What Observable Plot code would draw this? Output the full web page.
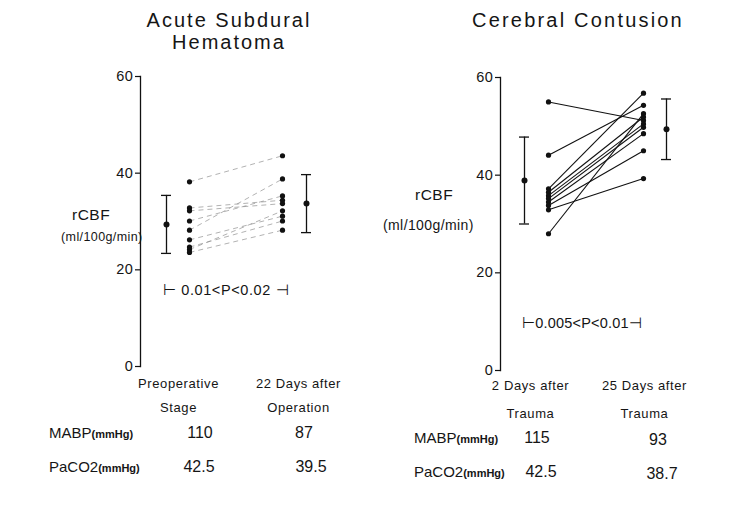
<!DOCTYPE html>
<html><head><meta charset="utf-8">
<script src="https://cdn.jsdelivr.net/npm/d3@7"></script>
<script src="https://cdn.jsdelivr.net/npm/@observablehq/plot@0.6"></script>
<style>
body{margin:0;background:#fff;font-family:"Liberation Sans",Arial,sans-serif;}
#wrap{position:relative;width:732px;height:509px;overflow:hidden;background:#fff;}
#wrap svg{position:absolute;top:0;}
.abs{position:absolute;white-space:nowrap;color:#151515;line-height:1;}
.unit{font-size:11px;font-weight:bold;}
</style></head><body><div id="wrap"></div>
<script>
// ---- data ----
const leftTitle = ["Acute Subdural", "Hematoma"];
const rightTitle = ["Cerebral Contusion"];
const leftStages = ["Preoperative\nStage", "22 Days after\nOperation"];
const rightStages = ["2 Days after\nTrauma", "25 Days after\nTrauma"];
const leftPre  = [38.2, 32.8, 32.2, 30.1, 28.2, 26.2, 24.7, 24.2, 23.6];
const leftPost = [43.6, 34.4, 33.7, 35.3, 38.8, 31.1, 30.1, 32.2, 28.2];
const leftMean = [29.4, 33.7];
const leftSD   = [6.0, 6.0];
const rightPre  = [55.0, 44.1, 37.2, 28.0, 36.5, 35.8, 35.2, 34.5, 33.8, 32.9];
const rightPost = [51.2, 54.3, 56.8, 52.6, 51.9, 50.5, 49.8, 48.5, 45.0, 39.3];
const rightMean = [38.9, 49.4];
const rightSD   = [8.9, 6.2];
const yTicks = [0, 20, 40, 60];
const yLabel = ["rCBF", "(ml/100g/min)"];
const leftP = "\u22A2 0.01<P<0.02 \u22A3";
const rightP = "\u22A20.005<P<0.01\u22A3";
const rowLabels = ["MABP", "PaCO2"];
const rowUnit = "(mmHg)";
const leftMABP = ["110", "87"];
const leftPaCO2 = ["42.5", "39.5"];
const rightMABP = ["115", "93"];
const rightPaCO2 = ["42.5", "38.7"];

const wrap = document.getElementById("wrap");
const FONT = '"Liberation Sans", Arial, sans-serif';

function panel(o) {
  const pairs = o.pre.map((a, i) => ({a, b: o.post[i]}));
  const s0 = () => o.stages[0], s1 = () => o.stages[1];
  const marks = [
    Plot.frame({anchor: "left", stroke: "#111", strokeWidth: 1.3}),
    Plot.axisY({ticks: yTicks, tickSize: 5, tickPadding: 2, fontSize: 14.5, label: null, stroke: "#111", strokeWidth: 1.2}),
    Plot.link(pairs, {x1: s0, x2: s1, y1: "a", y2: "b", stroke: o.lineStroke, strokeWidth: o.lineWidth, strokeDasharray: o.dash, strokeOpacity: o.lineOpacity}),
    Plot.dot(o.pre, {x: s0, y: d => d, r: 2.6, fill: "#111"}),
    Plot.dot(o.post, {x: s1, y: d => d, r: 2.6, fill: "#111"})
  ];
  o.mean.forEach((m, i) => {
    const st = [{x: o.stages[i], m, lo: m - o.sd[i], hi: m + o.sd[i]}];
    const dx = o.meanDx[i];
    marks.push(
      Plot.ruleX(st, {x: "x", y1: "lo", y2: "hi", dx, stroke: "#111", strokeWidth: 1.3}),
      Plot.ruleY(st, {x1: "x", x2: "x", y: "lo", dx, insetLeft: -5, insetRight: -5, stroke: "#111", strokeWidth: 1.3}),
      Plot.ruleY(st, {x1: "x", x2: "x", y: "hi", dx, insetLeft: -5, insetRight: -5, stroke: "#111", strokeWidth: 1.3}),
      Plot.dot(st, {x: "x", y: "m", dx, r: 3, fill: "#111"}),
      Plot.text([o.stages[i]], {x: d => d, text: d => d, frameAnchor: "bottom", lineAnchor: "top", dy: o.labelDy, dx: o.labelDx[i], lineHeight: o.lineHeight, fontSize: 13, fill: "#151515"})
    );
  });
  const svg = Plot.plot({
    width: 366, height: 440,
    marginLeft: o.marginLeft, marginTop: o.marginTop, marginBottom: 440 - o.zeroY, marginRight: 20,
    style: {fontFamily: FONT, color: "#151515", background: "transparent"},
    x: {type: "point", domain: o.stages, range: o.xRange, padding: 0, axis: null},
    y: {domain: [0, 60], axis: null},
    marks
  });
  svg.style.left = o.left + "px";
  svg.querySelectorAll("text").forEach(t => t.style.letterSpacing = "0.6px");
  wrap.appendChild(svg);
}

panel({left: 0, stages: leftStages, pre: leftPre, post: leftPost, mean: leftMean, sd: leftSD,
  marginLeft: 140, marginTop: 76, zeroY: 366, xRange: [189, 282], meanDx: [-23, 24],
  lineStroke: "#888", lineWidth: 1, dash: "5,4", lineOpacity: 0.65,
  labelDx: [-11, 16], labelDy: 4, lineHeight: 1.85});
panel({left: 366, stages: rightStages, pre: rightPre, post: rightPost, mean: rightMean, sd: rightSD,
  marginLeft: 134, marginTop: 77, zeroY: 370, xRange: [182, 277], meanDx: [-24, 23],
  lineStroke: "#111", lineWidth: 1.1, dash: null, lineOpacity: 1,
  labelDx: [-18, 1], labelDy: -1, lineHeight: 2.2});

function txt(text, left, top, size, extra, html) {
  const d = document.createElement("div");
  d.className = "abs";
  if (html) d.innerHTML = text; else d.textContent = text;
  d.style.left = left + "px";
  d.style.top = top + "px";
  d.style.fontSize = size + "px";
  if (extra) Object.assign(d.style, extra);
  wrap.appendChild(d);
  return d;
}
function centered(text, cx, top, size, extra, w) {
  w = w || 120;
  return txt(text, cx - w / 2, top, size, Object.assign({width: w + "px", textAlign: "center"}, extra || {}));
}
// titles
centered(leftTitle[0], 229, 10, 20, {letterSpacing: "2px"}, 240);
centered(leftTitle[1], 229, 32, 20, {letterSpacing: "2px"}, 240);
centered(rightTitle[0], 578, 10, 20, {letterSpacing: "2.2px"}, 280);
// y labels
txt(yLabel[0], 72, 207, 15.5, {letterSpacing: "0.5px"});
txt(yLabel[1], 61, 231, 12.5, {letterSpacing: "0.4px"});
txt(yLabel[0], 415, 187, 15.5, {letterSpacing: "0.5px"});
txt(yLabel[1], 383, 218, 14, {letterSpacing: "0.4px"});
// p-values
txt(leftP, 163, 283, 14.5, {letterSpacing: "0.6px"});
txt(rightP, 522, 316, 14.5, {letterSpacing: "0.2px"});
// tables
const u = '<span class="unit">' + rowUnit + '</span>';
txt(rowLabels[0] + u, 49, 425, 15, null, true);
txt(rowLabels[1] + u, 49, 459, 15, null, true);
centered(leftMABP[0], 200, 425, 16);
centered(leftMABP[1], 304, 425, 16);
centered(leftPaCO2[0], 199, 459, 16);
centered(leftPaCO2[1], 311, 459, 16);
txt(rowLabels[0] + u, 414, 430, 15, null, true);
txt(rowLabels[1] + u, 414, 464, 15, null, true);
centered(rightMABP[0], 537, 430, 16);
centered(rightMABP[1], 658, 432, 16);
centered(rightPaCO2[0], 541, 464, 16);
centered(rightPaCO2[1], 662, 466, 16);
</script></body></html>
